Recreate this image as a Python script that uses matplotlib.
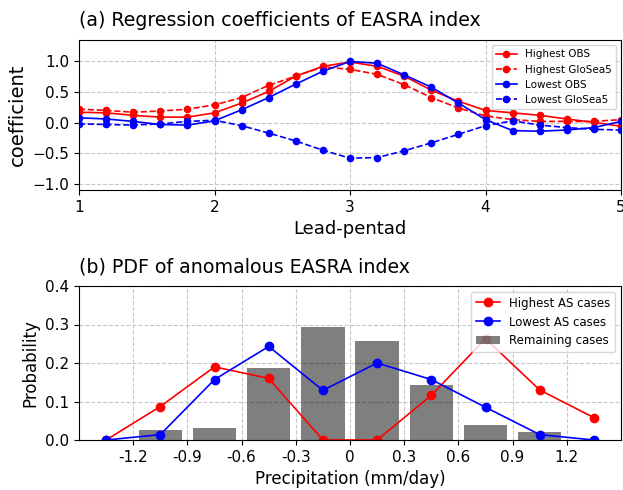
import numpy as np
import matplotlib
matplotlib.use('Agg')
import matplotlib.pyplot as plt

# (a) 회귀계수 데이터
lead = [1.0, 1.2, 1.4, 1.6, 1.8, 2.0, 2.2, 2.4, 2.6, 2.8, 3.0,
        3.2, 3.4, 3.6, 3.8, 4.0, 4.2, 4.4, 4.6, 4.8, 5.0]
high_obs = [0.17, 0.16, 0.12, 0.09, 0.09, 0.16, 0.32, 0.51, 0.76, 0.92, 0.99,
            0.92, 0.76, 0.53, 0.35, 0.20, 0.16, 0.12, 0.06, 0.005, -0.06]
high_gs5 = [0.22, 0.20, 0.17, 0.19, 0.22, 0.29, 0.41, 0.61, 0.76, 0.91, 0.87,
            0.79, 0.62, 0.41, 0.24, 0.11, 0.05, 0.02, 0.02, 0.02, 0.05]
low_obs = [0.08, 0.06, 0.02, -0.03, -0.04, 0.03, 0.21, 0.41, 0.63, 0.84, 1.0,
           0.97, 0.78, 0.58, 0.32, 0.05, -0.13, -0.14, -0.12, -0.08, 0.02]
low_gs5 = [-0.02, -0.03, -0.04, -0.02, 0.02, 0.04, -0.05, -0.17, -0.30, -0.45, -0.58,
           -0.57, -0.46, -0.33, -0.19, -0.05, 0.03, -0.04, -0.08, -0.11, -0.12]

# (b) PDF 데이터
pts = [-1.35, -1.05, -0.75, -0.45, -0.15, 0.15, 0.45, 0.75, 1.05, 1.35]
high_as = [0.0, 0.087, 0.19, 0.16, 0.0, 0.0, 0.116, 0.263, 0.13, 0.058]
low_as = [0.0, 0.014, 0.157, 0.243, 0.129, 0.2, 0.157, 0.085, 0.014, 0.0]
bar_x = [-1.05, -0.75, -0.45, -0.15, 0.15, 0.45, 0.75, 1.05]
remain = [0.026, 0.032, 0.188, 0.294, 0.256, 0.144, 0.038, 0.022]
xticks_b = [-1.2, -0.9, -0.6, -0.3, 0, 0.3, 0.6, 0.9, 1.2]
xticklabels_b = ['-1.2', '-0.9', '-0.6', '-0.3', '0', '0.3', '0.6', '0.9', '1.2']

fig = plt.figure(figsize=(6.23, 4.9), dpi=100)

# 위쪽 패널
ax1 = fig.add_axes([79/623, 1-190/490, 542/623, 150/490])
ax1.plot(lead, high_obs, 'r-', marker='o', ms=4.5, lw=1.2, label='Highest OBS')
ax1.plot(lead, high_gs5, 'r--', marker='o', ms=4.5, lw=1.2, label='Highest GloSea5')
ax1.plot(lead, low_obs, 'b-', marker='o', ms=4.5, lw=1.2, label='Lowest OBS')
ax1.plot(lead, low_gs5, 'b--', marker='o', ms=4.5, lw=1.2, label='Lowest GloSea5')
ax1.set_xlim(1, 5)
ax1.set_ylim(-1.1, 1.35)
ax1.set_xticks([1, 2, 3, 4, 5])
ax1.set_yticks([-1.0, -0.5, 0.0, 0.5, 1.0])
ax1.grid(True, ls='--', color='#c8c8c8', lw=0.8)
ax1.tick_params(labelsize=11)
ax1.set_xlabel('Lead-pentad', fontsize=13)
ax1.set_ylabel('coefficient', fontsize=14)
ax1.set_title('(a) Regression coefficients of EASRA index', fontsize=13.7, loc='left', pad=10)
ax1.legend(loc='upper right', fontsize=7.5)

# 아래쪽 패널
ax2 = fig.add_axes([79/623, 50/490, 542/623, 154/490])
ax2.bar(bar_x, remain, width=0.24, color='k', alpha=0.5, label='Remaining cases')
ax2.plot(pts, high_as, 'r-', marker='o', ms=6, lw=1.2, label='Highest AS cases')
ax2.plot(pts, low_as, 'b-', marker='o', ms=6, lw=1.2, label='Lowest AS cases')
ax2.set_xlim(-1.5, 1.5)
ax2.set_ylim(0, 0.4)
ax2.set_xticks(xticks_b)
ax2.set_xticklabels(xticklabels_b)
ax2.set_yticks([0.0, 0.1, 0.2, 0.3, 0.4])
ax2.set_axisbelow(True)
ax2.grid(True, ls='--', color='#c8c8c8', lw=0.8)
ax2.tick_params(labelsize=11)
ax2.set_xlabel('Precipitation (mm/day)', fontsize=12)
ax2.set_ylabel('Probability', fontsize=12)
ax2.set_title('(b) PDF of anomalous EASRA index', fontsize=13.7, loc='left', pad=10)
ax2.legend(loc='upper right', fontsize=8.5)

plt.savefig('out.png', dpi=100)
